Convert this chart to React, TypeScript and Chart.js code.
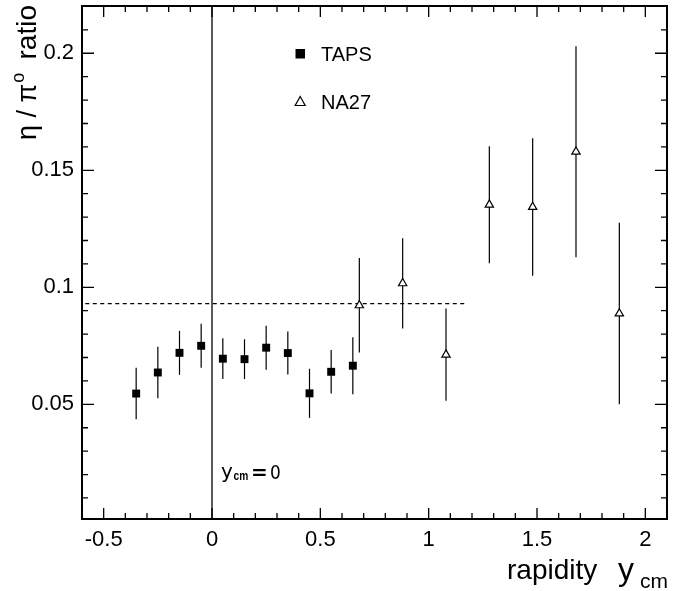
import React, { useEffect, useRef } from 'react';
import { Chart, registerables } from 'chart.js';

Chart.register(...registerables);

// ---- data ----
const tapsX = [-0.35, -0.25, -0.15, -0.05, 0.05, 0.15, 0.25, 0.35, 0.45, 0.55, 0.65];
const tapsY = [0.0546, 0.0636, 0.072, 0.075, 0.0695, 0.0693, 0.0742, 0.0719, 0.0547, 0.0639, 0.0665];
const tapsErr = [0.011, 0.011, 0.0094, 0.0094, 0.0087, 0.0085, 0.0094, 0.0092, 0.0105, 0.0093, 0.0122];

const na27X = [0.68, 0.88, 1.08, 1.28, 1.48, 1.68, 1.88];
const na27Y = [0.0923, 0.1017, 0.0712, 0.1353, 0.1343, 0.1579, 0.0888];
const na27Err = [0.0202, 0.0193, 0.0197, 0.025, 0.0294, 0.0451, 0.0388];

const seriesNames = ['TAPS', 'NA27'];

const xTickValues = [-0.5, 0, 0.5, 1, 1.5, 2];
const xTickLabels = ['-0.5', '0', '0.5', '1', '1.5', '2'];
const yTickValues = [0.05, 0.1, 0.15, 0.2];
const yTickLabels = ['0.05', '0.1', '0.15', '0.2'];

const xRange = [-0.6, 2.1];
const yRange = [0.001, 0.2202];

const refLevel = 0.093;
const refFrom = -0.585;
const refTo = 1.18;

const FONT = '"Liberation Sans", Arial, Helvetica, sans-serif';

const decor = {
  id: 'decor',
  beforeDatasetsDraw(chart: any) {
    const { ctx, chartArea: a, scales } = chart;
    const x = scales.x;
    const y = scales.y;
    ctx.save();
    ctx.strokeStyle = '#000';
    // zero line
    ctx.lineWidth = 1.3;
    const x0 = x.getPixelForValue(0);
    ctx.beginPath();
    ctx.moveTo(x0, a.top);
    ctx.lineTo(x0, a.bottom);
    ctx.stroke();
    // dashed reference level
    ctx.lineWidth = 1.2;
    ctx.setLineDash([4, 3.5]);
    const yr = y.getPixelForValue(refLevel);
    ctx.beginPath();
    ctx.moveTo(x.getPixelForValue(refFrom), yr);
    ctx.lineTo(x.getPixelForValue(refTo), yr);
    ctx.stroke();
    ctx.setLineDash([]);
    // error bars
    ctx.lineWidth = 1.2;
    const bars = (xs: number[], ys: number[], es: number[]) => {
      xs.forEach((xv, i) => {
        const px = x.getPixelForValue(xv);
        ctx.beginPath();
        ctx.moveTo(px, y.getPixelForValue(ys[i] - es[i]));
        ctx.lineTo(px, y.getPixelForValue(ys[i] + es[i]));
        ctx.stroke();
      });
    };
    bars(tapsX, tapsY, tapsErr);
    bars(na27X, na27Y, na27Err);
    ctx.restore();
  },
  afterDraw(chart: any) {
    const { ctx, chartArea: a, scales } = chart;
    const x = scales.x;
    const y = scales.y;
    ctx.save();
    ctx.strokeStyle = '#000';
    ctx.fillStyle = '#000';
    // frame
    ctx.lineWidth = 2;
    ctx.strokeRect(a.left, a.top, a.right - a.left, a.bottom - a.top);
    // ticks
    ctx.lineWidth = 1.3;
    const isMajor = (v: number, arr: number[]) => arr.some((m) => Math.abs(m - v) < 1e-9);
    for (let k = Math.ceil(xRange[0] * 10 + 1e-6); k <= Math.floor(xRange[1] * 10 - 1e-6); k++) {
      const v = k / 10;
      const px = x.getPixelForValue(v);
      const L = isMajor(v, xTickValues) ? 11 : 6;
      ctx.beginPath();
      ctx.moveTo(px, a.bottom);
      ctx.lineTo(px, a.bottom - L);
      ctx.moveTo(px, a.top);
      ctx.lineTo(px, a.top + L);
      ctx.stroke();
    }
    for (let k = Math.ceil(yRange[0] * 100 + 1e-6); k <= Math.floor(yRange[1] * 100 - 1e-6); k++) {
      const v = k / 100;
      const py = y.getPixelForValue(v);
      const L = isMajor(v, yTickValues) ? 12 : 6;
      ctx.beginPath();
      ctx.moveTo(a.left, py);
      ctx.lineTo(a.left + L, py);
      ctx.moveTo(a.right, py);
      ctx.lineTo(a.right - L, py);
      ctx.stroke();
    }
    // legend
    ctx.fillRect(295.5, 49, 9.5, 9.5);
    ctx.lineWidth = 1.2;
    ctx.beginPath();
    ctx.moveTo(300.2, 96.5);
    ctx.lineTo(305.2, 105.5);
    ctx.lineTo(295.2, 105.5);
    ctx.closePath();
    ctx.stroke();
    ctx.font = `20px ${FONT}`;
    ctx.textAlign = 'left';
    ctx.textBaseline = 'alphabetic';
    ctx.fillText(chart.data.datasets[0].label, 321, 61);
    ctx.fillText(chart.data.datasets[1].label, 321, 109);

    // y_cm = 0 label
    ctx.font = `20px "DejaVu Sans", sans-serif`;
    ctx.fillText('y', 221, 478);
    ctx.save();
    ctx.translate(233.5, 479.5);
    ctx.scale(0.85, 1);
    ctx.font = `bold 12px ${FONT}`;
    ctx.fillText('cm', 0, 0);
    ctx.restore();
    ctx.font = `bold 20px "DejaVu Sans", sans-serif`;
    ctx.fillText('=', 251, 479);
    ctx.save();
    ctx.translate(270, 479);
    ctx.scale(0.85, 1);
    ctx.font = `20px "DejaVu Sans", sans-serif`;
    ctx.fillText('0', 0, 0);
    ctx.restore();

    // x title
    ctx.font = `28px ${FONT}`;
    ctx.fillText('rapidity', 507, 579);
    ctx.font = `32px ${FONT}`;
    ctx.fillText('y', 618, 580);
    ctx.font = `21px ${FONT}`;
    ctx.fillText('cm', 640, 588);

    // y title (rotated)
    ctx.save();
    ctx.translate(36, 140);
    ctx.rotate(-Math.PI / 2);
    ctx.font = `27px ${FONT}`;
    const p1 = '\u03B7 / \u03C0';
    ctx.fillText(p1, 0, 0);
    const w1 = ctx.measureText(p1).width;
    ctx.font = `18px ${FONT}`;
    ctx.fillText('o', w1 + 1, -12);
    ctx.font = `28px ${FONT}`;
    ctx.textAlign = 'right';
    ctx.fillText('ratio', 135, 0);
    ctx.restore();

    ctx.restore();
  },
};

export default function App() {
  const ref = useRef<HTMLCanvasElement | null>(null);
  useEffect(() => {
    if (!ref.current) return;
    const chart = new Chart(ref.current, {
      type: 'scatter',
      data: {
        datasets: [
          {
            label: seriesNames[0],
            data: tapsX.map((v, i) => ({ x: v, y: tapsY[i] })),
            pointStyle: 'rect',
            pointRadius: 5.6,
            pointHoverRadius: 5.6,
            backgroundColor: '#000',
            borderColor: '#000',
            borderWidth: 0,
          },
          {
            label: seriesNames[1],
            data: na27X.map((v, i) => ({ x: v, y: na27Y[i] })),
            pointStyle: 'triangle',
            pointRadius: 4.8,
            pointHoverRadius: 4.8,
            backgroundColor: '#fff',
            borderColor: '#000',
            borderWidth: 1.2,
          },
        ],
      },
      options: {
        responsive: false,
        animation: false,
        devicePixelRatio: 1,
        events: [],
        layout: { padding: { left: 0, top: 6, right: 1, bottom: 0 } },
        plugins: { legend: { display: false }, tooltip: { enabled: false } },
        scales: {
          x: {
            type: 'linear',
            min: xRange[0],
            max: xRange[1],
            grid: { display: false, drawTicks: false },
            border: { display: false },
            ticks: {
              autoSkip: false,
              maxRotation: 0,
              padding: 8,
              color: '#000',
              font: { family: FONT, size: 22 },
              callback: (v: any) => {
                const i = xTickValues.findIndex((t) => Math.abs(t - v) < 1e-9);
                return i >= 0 ? xTickLabels[i] : '';
              },
            },
            afterBuildTicks: (s: any) => {
              s.ticks = xTickValues.map((v) => ({ value: v }));
            },
            afterFit: (s: any) => {
              s.height = 72;
              s.paddingLeft = 0;
              s.paddingRight = 0;
              s.paddingTop = 0;
              s.paddingBottom = 0;
            },
          },
          y: {
            type: 'linear',
            min: yRange[0],
            max: yRange[1],
            grid: { display: false, drawTicks: false },
            border: { display: false },
            ticks: {
              autoSkip: false,
              padding: 8,
              color: '#000',
              font: { family: FONT, size: 22 },
              callback: (v: any) => {
                const i = yTickValues.findIndex((t) => Math.abs(t - v) < 1e-9);
                return i >= 0 ? yTickLabels[i] : '';
              },
            },
            afterBuildTicks: (s: any) => {
              s.ticks = yTickValues.map((v) => ({ value: v }));
            },
            afterFit: (s: any) => {
              s.width = 82;
              s.paddingLeft = 0;
              s.paddingRight = 0;
              s.paddingTop = 0;
              s.paddingBottom = 0;
            },
          },
        },
      },
      plugins: [decor],
    } as any);
    return () => chart.destroy();
  }, []);
  return (
    <div style={{ position: 'fixed', left: 0, top: 0, width: 673, height: 591, background: '#fff' }}>
      <canvas ref={ref} width={673} height={591} style={{ display: 'block', width: 673, height: 591 }} />
    </div>
  );
}
